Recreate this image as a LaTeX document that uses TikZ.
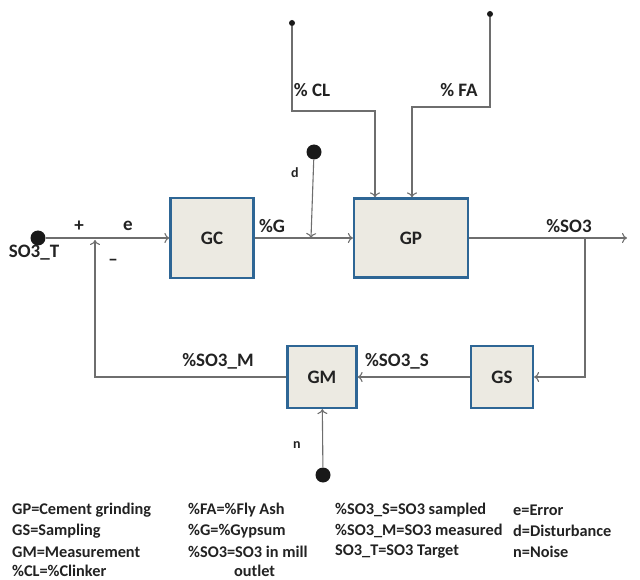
\documentclass[tikz,border=0pt]{standalone}
\usepackage{fontspec}
\setmainfont{Carlito}
\usetikzlibrary{arrows.meta}
\definecolor{blockblue}{HTML}{2E6695}
\definecolor{blockfill}{HTML}{ECEAE2}
\definecolor{wiregray}{HTML}{6E6E6E}
\definecolor{textdark}{HTML}{222222}

\begin{document}
\begin{tikzpicture}[x=1pt, y=-1pt, >={To[length=5pt,width=10pt]}, text=textdark,
  font=\bfseries\fontsize{19}{22}\selectfont,
  block/.style={draw=blockblue, line width=2.2pt, fill=blockfill, inner sep=0pt},
  wire/.style={draw=wiregray, line width=1.1pt},
  bigdot/.style={circle, fill=black!90, inner sep=0pt, minimum size=15pt},
  smalldot/.style={circle, fill=black!90, inner sep=0pt, minimum size=6pt},
  small/.style={font=\bfseries\fontsize{14}{16}\selectfont},
  legend/.style={anchor=west, inner sep=0pt, font=\bfseries\fontsize{16.3}{19}\selectfont}]
  \useasboundingbox (0,0) rectangle (640,580);
  % blocks
  \node[block, minimum width=83pt, minimum height=80pt] (GC) at (212,238) {GC};
  \node[block, minimum width=114pt, minimum height=79pt] (GP) at (411,238) {GP};
  \node[block, minimum width=69pt, minimum height=62pt] (GM) at (322,377) {GM};
  \node[block, minimum width=62pt, minimum height=62pt] (GS) at (502,377) {GS};
  % sources
  \node[bigdot] (sot) at (38,238) {};
  \node[bigdot] (dd) at (314,152) {};
  \node[bigdot] (nn) at (323,475) {};
  \node[smalldot] (cl) at (292,23) {};
  \node[smalldot] (fa) at (490,14) {};
  \coordinate (sum) at (95,238);
  \coordinate (dj) at (311,238);
  \coordinate (br) at (585,238);
  \coordinate (out) at (627,238);
  \coordinate (clk) at (375,111);
  \coordinate (fak) at (412,107);
  % connectors
  \draw[wire,->] (sot) -- (GC);
  \draw[wire,->] (GC) -- (GP);
  \draw[wire,->] (GP) -- (out);
  \draw[wire,->] (dd) -- (dj);
  \draw[wire,->] (cl) |- (clk) -- (clk |- GP.north);
  \draw[wire,->] (fa) |- (fak) -- (fak |- GP.north);
  \draw[wire,->] (br) |- (GS);
  \draw[wire,->] (GS) -- (GM);
  \draw[wire,->, shorten >=2pt] (GM) -| (sum);
  \draw[wire,->] (nn) -- (GM);
  % labels
  \node (plus) at (79,226) {+};
  \node (elab) at (128,226) {e};
  \node (minus) at (113,262) {--};
  \node (sotlab) at (34,253) {SO3\_T};
  \node (glab) at (272,226) {\%G};
  \node[small] (dlab) at (295,173) {d};
  \node (cllab) at (312,90) {\% CL};
  \node (falab) at (459,90) {\% FA};
  \node (so3lab) at (569,226) {\%SO3};
  \node (mlab) at (218,361) {\%SO3\_M};
  \node (slab) at (397,361) {\%SO3\_S};
  \node[small] (nlab) at (297,445) {n};
  % legend
  \node[legend] (l1) at (12,510) {GP=Cement grinding};
  \node[legend] (l2) at (12,531) {GS=Sampling};
  \node[legend] (l3) at (12,552) {GM=Measurement};
  \node[legend] (l4) at (12,571) {\%CL=\%Clinker};
  \node[legend] (l5) at (188,510) {\%FA=\%Fly Ash};
  \node[legend] (l6) at (188,531) {\%G=\%Gypsum};
  \node[legend] (l7) at (188,552) {\%SO3=SO3 in mill};
  \node[legend] (l8) at (234,571) {outlet};
  \node[legend] (l9) at (335,510) {\%SO3\_S=SO3 sampled};
  \node[legend] (l10) at (335,531) {\%SO3\_M=SO3 measured};
  \node[legend] (l11) at (335,552) {SO3\_T=SO3 Target};
  \node[legend] (l12) at (513,510) {e=Error};
  \node[legend] (l13) at (513,531) {d=Disturbance};
  \node[legend] (l14) at (513,552) {n=Noise};
\end{tikzpicture}
\end{document}
